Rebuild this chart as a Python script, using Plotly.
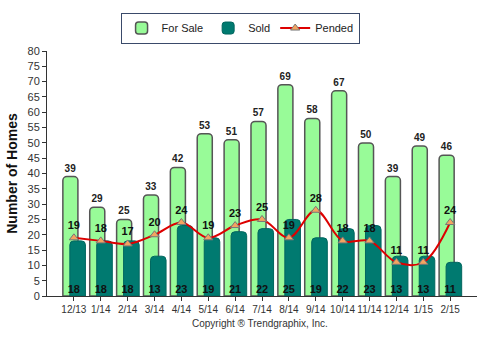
import plotly.graph_objects as go

months = ["12/13", "1/14", "2/14", "3/14", "4/14", "5/14", "6/14", "7/14",
          "8/14", "9/14", "10/14", "11/14", "12/14", "1/15", "2/15"]
for_sale = [39, 29, 25, 33, 42, 53, 51, 57, 69, 58, 67, 50, 39, 49, 46]
sold = [18, 18, 18, 13, 23, 19, 21, 22, 25, 19, 22, 23, 13, 13, 11]
pended = [19, 18, 17, 20, 24, 19, 23, 25, 19, 28, 18, 18, 11, 11, 24]

FONT = "Liberation Sans, Arial, sans-serif"

fig = go.Figure()
fig.add_trace(go.Bar(
    x=months, y=for_sale, name="For Sale",
    marker=dict(color="#98FB98", line=dict(color="#555555", width=1.5), cornerradius=4),
    width=0.56, offset=-0.41,
    text=for_sale, textposition="outside", cliponaxis=False, textangle=0,
    textfont=dict(family=FONT, size=10, color="#222222", weight="bold"),
))
fig.add_trace(go.Bar(
    x=months, y=sold, name="Sold",
    marker=dict(color="#007A70", line=dict(color="#00665e", width=1), cornerradius=4),
    width=0.58, offset=-0.15, textposition="none",
))
# Sold value labels near the base of each bar
fig.add_trace(go.Scatter(
    x=months, y=[0] * len(months), mode="text", text=sold,
    textposition="top center", showlegend=False, hoverinfo="skip",
    cliponaxis=False,
    textfont=dict(family=FONT, size=11, color="#111111", weight="bold"),
))
fig.add_trace(go.Scatter(
    x=months, y=pended, name="Pended",
    mode="lines+markers+text",
    line=dict(color="#DD0000", width=2, shape="spline", smoothing=1.0),
    marker=dict(symbol="triangle-up", size=8, color="#F4A460",
                line=dict(color="#777777", width=1)),
    text=pended, textposition="top center", cliponaxis=False,
    textfont=dict(family=FONT, size=11, color="#111111", weight="bold"),
))

fig.update_layout(
    width=493, height=339,
    margin=dict(l=43, r=16, t=47, b=43),
    barmode="overlay",
    plot_bgcolor="white", paper_bgcolor="white",
    font=dict(family=FONT, size=11, color="#333333"),
    showlegend=True,
    legend=dict(orientation="h", x=0.449, xanchor="center", y=1.157, yanchor="top",
                bordercolor="#3a4a6a", borderwidth=1, bgcolor="white",
                font=dict(size=11, color="#222222"), itemwidth=30,
                traceorder="normal"),
    annotations=[dict(text="Copyright \u00ae Trendgraphix, Inc.", x=0.495, y=-0.112,
                      xref="paper", yref="paper", yanchor="middle", showarrow=False,
                      font=dict(size=10, color="#333333"))],
)
fig.update_xaxes(
    type="category", range=[-1, 15], tickangle=0,
    showline=True, linecolor="#333333", linewidth=1,
    ticks="outside", ticklen=4, tickcolor="#333333",
    showgrid=False, tickfont=dict(size=10, color="#333333"),
)
fig.update_yaxes(
    range=[0, 80], dtick=5,
    showline=True, linecolor="#333333", linewidth=1,
    ticks="outside", ticklen=4, tickcolor="#333333",
    showgrid=False, zeroline=False, tickfont=dict(size=11, color="#333333"),
    title=dict(text="Number of Homes", standoff=6,
               font=dict(size=14, color="#111111", weight="bold")),
)

fig.write_html("out.html")
